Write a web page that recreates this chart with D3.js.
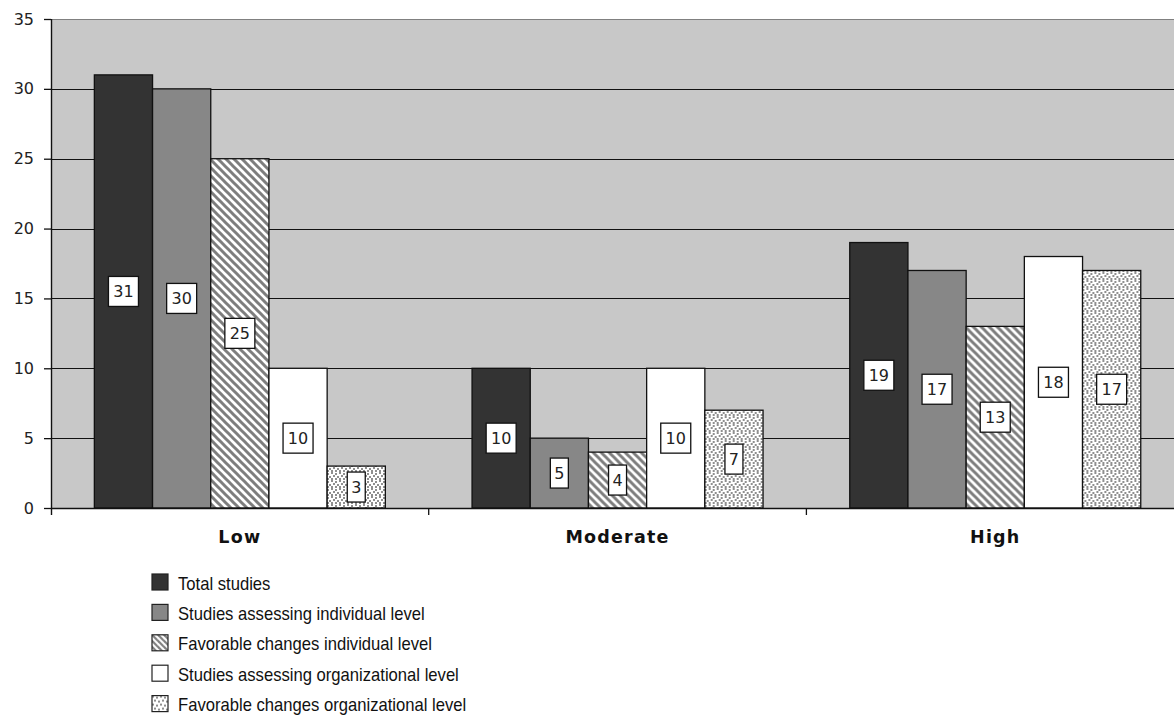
<!DOCTYPE html>
<html>
<head>
<meta charset="utf-8">
<script src="https://cdn.jsdelivr.net/npm/d3@7"></script>
<style>
  html, body { margin: 0; padding: 0; background: #fff; overflow: hidden; }
  svg { display: block; }
</style>
</head>
<body>
<svg id="chart" width="1174" height="721"></svg>
<script>
// Involvement level groups and the five study series
const categories = ["Low", "Moderate", "High"];
const seriesNames = [
  "Total studies",
  "Studies assessing individual level",
  "Favorable changes individual level",
  "Studies assessing organizational level",
  "Favorable changes organizational level"
];
const totalStudies = [31, 10, 19];
const individualAssessed = [30, 5, 17];
const individualFavorable = [25, 4, 13];
const organizationalAssessed = [10, 10, 18];
const organizationalFavorable = [3, 7, 17];
const yTicks = [0, 5, 10, 15, 20, 25, 30, 35];

const seriesValues = [totalStudies, individualAssessed, individualFavorable,
                      organizationalAssessed, organizationalFavorable];
const fills = ["#333333", "#878787", "url(#hatch)", "#ffffff", "url(#stipple)"];
const legendFills = ["#333333", "#878787", "url(#hatchSmall)", "#ffffff", "url(#stippleSmall)"];

const svg = d3.select("#chart");
const defs = svg.append("defs");

// diagonal hatch
function hatch(id, size, sw) {
  const p = defs.append("pattern").attr("id", id).attr("patternUnits", "userSpaceOnUse")
    .attr("width", size).attr("height", size);
  p.append("rect").attr("width", size).attr("height", size).attr("fill", "#fff");
  const lines = [[-size/2, size/2, size/2, size*1.5], [0, 0, size, size], [size/2, -size/2, size*1.5, size/2]];
  lines.forEach(l => p.append("line").attr("x1", l[0]).attr("y1", l[1]).attr("x2", l[2]).attr("y2", l[3])
    .attr("stroke", "#7e7e7e").attr("stroke-width", sw));
}
hatch("hatch", 8, 3);
hatch("hatchSmall", 6, 2.2);

// stippled dot texture
function stipple(id, dots) {
  const p = defs.append("pattern").attr("id", id).attr("patternUnits", "userSpaceOnUse")
    .attr("width", 8).attr("height", 8);
  p.append("rect").attr("width", 8).attr("height", 8).attr("fill", "#fff");
  dots.forEach(d => p.append("rect").attr("x", d[0]).attr("y", d[1]).attr("width", 2).attr("height", 2)
    .attr("fill", "#8f8f8f"));
}
stipple("stipple", [[0, 0], [4, 1], [2, 3], [6, 4], [0, 6], [4, 6]]);
stipple("stippleSmall", [[0, 0], [4, 1], [2, 4], [6, 5]]);

const plotLeft = 51, plotTop = 19, plotBottom = 508;
const bandW = 377.7;
const plotRight = plotLeft + bandW * categories.length;

const x0 = d3.scaleBand().domain(categories).range([plotLeft, plotRight]).padding(0);
const x1 = d3.scaleBand().domain(d3.range(seriesNames.length)).range([43.35, bandW - 43.35]).padding(0);
const y = d3.scaleLinear().domain([0, 35]).range([plotBottom, plotTop]);

// plot background
svg.append("rect").attr("x", plotLeft).attr("y", plotTop).attr("width", plotRight - plotLeft).attr("height", plotBottom - plotTop)
  .attr("fill", "#c8c8c8");
svg.append("line").attr("x1", plotLeft).attr("x2", plotRight).attr("y1", plotTop + 0.5).attr("y2", plotTop + 0.5)
  .attr("stroke", "#808080").attr("stroke-width", 1);

// gridlines
svg.append("g").selectAll("line").data(yTicks.filter(t => t > 0 && t < 35)).join("line")
  .attr("x1", plotLeft).attr("x2", plotRight)
  .attr("y1", d => Math.round(y(d)) + 0.5).attr("y2", d => Math.round(y(d)) + 0.5)
  .attr("stroke", "#111").attr("stroke-width", 1.2);

// bars
const groups = svg.append("g").selectAll("g").data(categories).join("g")
  .attr("transform", c => `translate(${x0(c)},0)`);

groups.each(function(c, ci) {
  const g = d3.select(this);
  seriesValues.forEach((vals, si) => {
    const v = vals[ci];
    g.append("rect")
      .attr("x", x1(si)).attr("y", y(v))
      .attr("width", x1.bandwidth()).attr("height", y(0) - y(v))
      .attr("fill", fills[si]).attr("stroke", "#111").attr("stroke-width", 1.3);
  });
  // value labels in boxes
  seriesValues.forEach((vals, si) => {
    const v = vals[ci];
    const cx = x1(si) + x1.bandwidth() / 2;
    const cy = (y(v) + y(0)) / 2;
    const w = String(v).length > 1 ? 30 : 18;
    g.append("rect").attr("x", cx - w / 2).attr("y", cy - 15).attr("width", w).attr("height", 30)
      .attr("fill", "#fff").attr("stroke", "#111").attr("stroke-width", 1.3);
    g.append("text").attr("x", cx).attr("y", cy + 6).attr("text-anchor", "middle")
      .attr("font-family", "DejaVu Sans").attr("font-size", 16).attr("fill", "#222")
      .text(v);
  });
});

// y axis
const yAxis = d3.axisLeft(y).tickValues(yTicks).tickSize(7).tickPadding(10);
const yg = svg.append("g").attr("transform", `translate(${plotLeft},0)`).call(yAxis);
yg.select(".domain").remove();
yg.selectAll("line").attr("stroke", "#111").attr("stroke-width", 1.3);
yg.selectAll("text").attr("font-family", "DejaVu Sans").attr("font-size", 16).attr("fill", "#222");
svg.append("line").attr("x1", plotLeft + 0.5).attr("x2", plotLeft + 0.5).attr("y1", plotTop).attr("y2", plotBottom + 7)
  .attr("stroke", "#111").attr("stroke-width", 1.4);

// x axis baseline and category ticks
svg.append("line").attr("x1", plotLeft).attr("x2", plotRight).attr("y1", plotBottom + 0.5).attr("y2", plotBottom + 0.5)
  .attr("stroke", "#111").attr("stroke-width", 1.4);
svg.append("g").selectAll("line").data(categories.slice(1)).join("line")
  .attr("x1", c => x0(c)).attr("x2", c => x0(c)).attr("y1", plotBottom).attr("y2", plotBottom + 7)
  .attr("stroke", "#111").attr("stroke-width", 1.3);
svg.append("g").selectAll("text").data(categories).join("text")
  .attr("x", c => x0(c) + bandW / 2).attr("y", 543)
  .attr("text-anchor", "middle")
  .attr("font-family", "DejaVu Sans").attr("font-weight", "bold").attr("font-size", 17.5)
  .attr("letter-spacing", 1.2)
  .attr("fill", "#111")
  .text(c => c);

// legend
const legend = svg.append("g").selectAll("g").data(seriesNames).join("g")
  .attr("transform", (d, i) => `translate(152,${574 + i * 30.4})`);
legend.append("rect").attr("width", 16).attr("height", 16)
  .attr("fill", (d, i) => legendFills[i]).attr("stroke", "#222").attr("stroke-width", 1.2);
legend.append("text").attr("transform", "translate(26,15.5) scale(0.875,1)")
  .attr("font-family", "'Liberation Sans', Arial, sans-serif").attr("font-size", 19).attr("fill", "#111")
  .text(d => d);
</script>
</body>
</html>
